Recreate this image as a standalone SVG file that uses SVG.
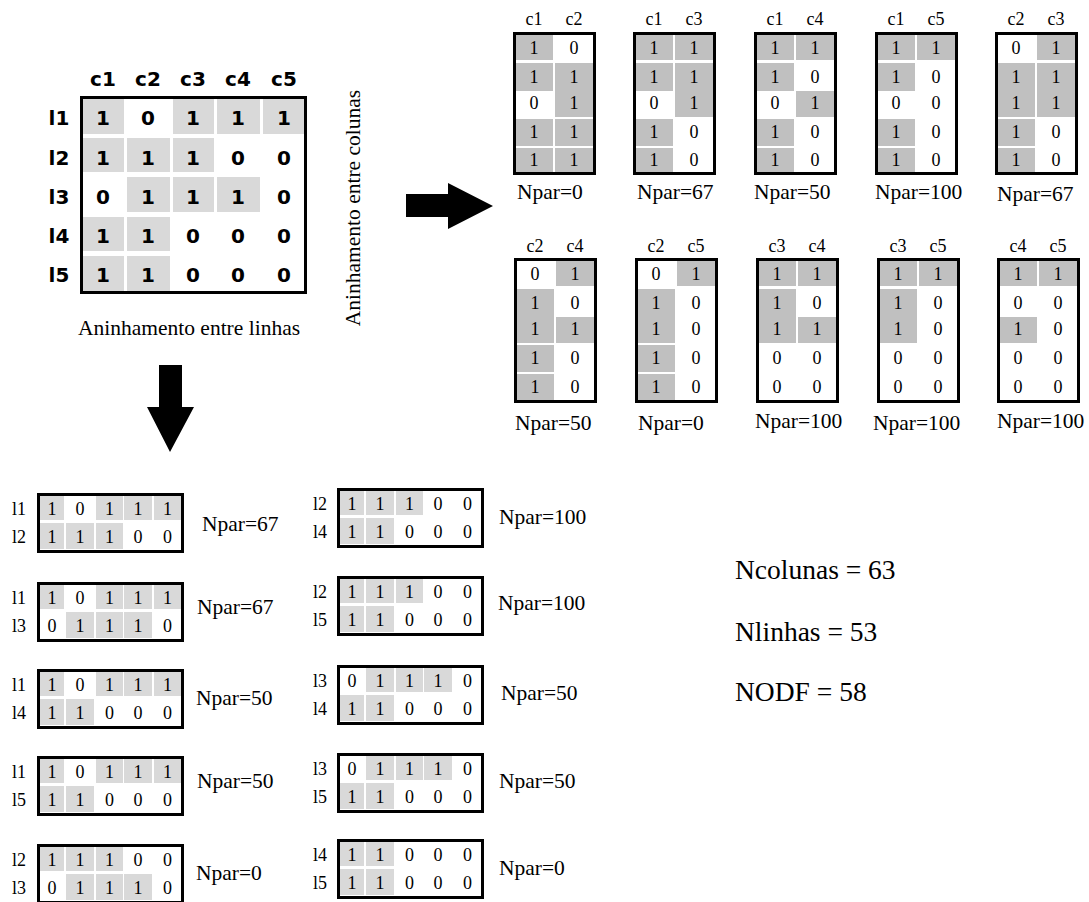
<svg xmlns="http://www.w3.org/2000/svg" width="1089" height="902" viewBox="0 0 1089 902">
<style>
.bx{fill:none;stroke:#000;stroke-width:3}
.g1{fill:#d9d9d9}
.g2{fill:#c0c0c0}
.m{font-family:'DejaVu Sans',Verdana,sans-serif;font-weight:bold;font-size:20px;text-anchor:middle;fill:#000}
.d{font-family:'Liberation Serif','DejaVu Serif',serif;font-size:18px;text-anchor:middle;fill:#000}
.np{font-family:'Liberation Serif','DejaVu Serif',serif;font-size:21.5px;fill:#000}
.big{font-family:'Liberation Serif','DejaVu Serif',serif;font-size:27.5px;fill:#000}
.arr{fill:#000}
</style>
<rect width="1089" height="902" fill="#fff"/>

<!-- main matrix -->
<g id="matrix">
<rect class="g1" x="83" y="98" width="41" height="36"/>
<rect class="g1" x="173" y="98" width="41" height="36"/>
<rect class="g1" x="217" y="98" width="43" height="36"/>
<rect class="g1" x="263" y="98" width="42" height="36"/>
<rect class="g1" x="83" y="138" width="41" height="34"/>
<rect class="g1" x="127" y="138" width="43" height="34"/>
<rect class="g1" x="173" y="138" width="41" height="34"/>
<rect class="g1" x="127" y="177" width="43" height="35"/>
<rect class="g1" x="173" y="177" width="41" height="35"/>
<rect class="g1" x="217" y="177" width="43" height="35"/>
<rect class="g1" x="83" y="217" width="41" height="34"/>
<rect class="g1" x="127" y="217" width="43" height="34"/>
<rect class="g1" x="83" y="256" width="41" height="35"/>
<rect class="g1" x="127" y="256" width="43" height="35"/>
<rect class="bx" x="81.5" y="97.5" width="224" height="195"/>
<text class="m" x="103" y="86">c1</text>
<text class="m" x="148" y="86">c2</text>
<text class="m" x="193" y="86">c3</text>
<text class="m" x="238" y="86">c4</text>
<text class="m" x="284" y="86">c5</text>
<text class="m" x="59" y="125">l1</text>
<text class="m" x="59" y="165">l2</text>
<text class="m" x="59" y="204">l3</text>
<text class="m" x="59" y="243">l4</text>
<text class="m" x="59" y="282">l5</text>
<text class="m" x="103" y="125">1</text><text class="m" x="148" y="125">0</text><text class="m" x="193" y="125">1</text><text class="m" x="238" y="125">1</text><text class="m" x="284" y="125">1</text>
<text class="m" x="103" y="165">1</text><text class="m" x="148" y="165">1</text><text class="m" x="193" y="165">1</text><text class="m" x="238" y="165">0</text><text class="m" x="284" y="165">0</text>
<text class="m" x="103" y="204">0</text><text class="m" x="148" y="204">1</text><text class="m" x="193" y="204">1</text><text class="m" x="238" y="204">1</text><text class="m" x="284" y="204">0</text>
<text class="m" x="103" y="243">1</text><text class="m" x="148" y="243">1</text><text class="m" x="193" y="243">0</text><text class="m" x="238" y="243">0</text><text class="m" x="284" y="243">0</text>
<text class="m" x="103" y="282">1</text><text class="m" x="148" y="282">1</text><text class="m" x="193" y="282">0</text><text class="m" x="238" y="282">0</text><text class="m" x="284" y="282">0</text>
<text class="np" x="189" y="335" text-anchor="middle">Aninhamento entre linhas</text>
<text class="np" transform="translate(360,208) rotate(-90)" text-anchor="middle">Aninhamento entre colunas</text>
</g>

<!-- connectors -->
<g id="connectors">
<polygon class="arr" points="406,194 448,194 448,183 493,206 448,229 448,217 406,217"/>
<polygon class="arr" points="159,365 182,365 182,407 194,407 170,452 147,407 159,407"/>
</g>

<!-- column pairs, top row -->
<g id="cp-c1-c2" transform="translate(513,32)">
<rect class="g2" x="3" y="3" width="37" height="25"/><rect class="g2" x="3" y="31" width="37" height="28"/><rect class="g2" x="3" y="87" width="37" height="27"/><rect class="g2" x="3" y="116" width="37" height="25"/>
<rect class="g2" x="42" y="31" width="38" height="28"/><rect class="g2" x="42" y="59" width="38" height="26"/><rect class="g2" x="42" y="87" width="38" height="27"/><rect class="g2" x="42" y="116" width="38" height="25"/>
<rect class="bx" x="1.5" y="1.5" width="80" height="140"/>
<text class="d" x="21" y="-7">c1</text><text class="d" x="61" y="-7">c2</text>
<text class="d" x="21" y="22">1</text><text class="d" x="21" y="51">1</text><text class="d" x="21" y="77">0</text><text class="d" x="21" y="106">1</text><text class="d" x="21" y="134">1</text>
<text class="d" x="61" y="22">0</text><text class="d" x="61" y="51">1</text><text class="d" x="61" y="77">1</text><text class="d" x="61" y="106">1</text><text class="d" x="61" y="134">1</text>
<text class="np" x="4" y="167">Npar=0</text>
</g>
<g id="cp-c1-c3" transform="translate(633,32)">
<rect class="g2" x="3" y="3" width="37" height="25"/><rect class="g2" x="3" y="31" width="37" height="28"/><rect class="g2" x="3" y="87" width="37" height="27"/><rect class="g2" x="3" y="116" width="37" height="25"/>
<rect class="g2" x="42" y="3" width="38" height="25"/><rect class="g2" x="42" y="31" width="38" height="28"/><rect class="g2" x="42" y="59" width="38" height="26"/>
<rect class="bx" x="1.5" y="1.5" width="80" height="140"/>
<text class="d" x="21" y="-7">c1</text><text class="d" x="61" y="-7">c3</text>
<text class="d" x="21" y="22">1</text><text class="d" x="21" y="51">1</text><text class="d" x="21" y="77">0</text><text class="d" x="21" y="106">1</text><text class="d" x="21" y="134">1</text>
<text class="d" x="61" y="22">1</text><text class="d" x="61" y="51">1</text><text class="d" x="61" y="77">1</text><text class="d" x="61" y="106">0</text><text class="d" x="61" y="134">0</text>
<text class="np" x="4" y="167">Npar=67</text>
</g>
<g id="cp-c1-c4" transform="translate(754,32)">
<rect class="g2" x="3" y="3" width="37" height="25"/><rect class="g2" x="3" y="31" width="37" height="28"/><rect class="g2" x="3" y="87" width="37" height="27"/><rect class="g2" x="3" y="116" width="37" height="25"/>
<rect class="g2" x="42" y="3" width="38" height="25"/><rect class="g2" x="42" y="59" width="38" height="26"/>
<rect class="bx" x="1.5" y="1.5" width="80" height="140"/>
<text class="d" x="21" y="-7">c1</text><text class="d" x="61" y="-7">c4</text>
<text class="d" x="21" y="22">1</text><text class="d" x="21" y="51">1</text><text class="d" x="21" y="77">0</text><text class="d" x="21" y="106">1</text><text class="d" x="21" y="134">1</text>
<text class="d" x="61" y="22">1</text><text class="d" x="61" y="51">0</text><text class="d" x="61" y="77">1</text><text class="d" x="61" y="106">0</text><text class="d" x="61" y="134">0</text>
<text class="np" x="0" y="167">Npar=50</text>
</g>
<g id="cp-c1-c5" transform="translate(875,32)">
<rect class="g2" x="3" y="3" width="37" height="25"/><rect class="g2" x="3" y="31" width="37" height="28"/><rect class="g2" x="3" y="87" width="37" height="27"/><rect class="g2" x="3" y="116" width="37" height="25"/>
<rect class="g2" x="42" y="3" width="38" height="25"/>
<rect class="bx" x="1.5" y="1.5" width="80" height="140"/>
<text class="d" x="21" y="-7">c1</text><text class="d" x="61" y="-7">c5</text>
<text class="d" x="21" y="22">1</text><text class="d" x="21" y="51">1</text><text class="d" x="21" y="77">0</text><text class="d" x="21" y="106">1</text><text class="d" x="21" y="134">1</text>
<text class="d" x="61" y="22">1</text><text class="d" x="61" y="51">0</text><text class="d" x="61" y="77">0</text><text class="d" x="61" y="106">0</text><text class="d" x="61" y="134">0</text>
<text class="np" x="0" y="167">Npar=100</text>
</g>
<g id="cp-c2-c3" transform="translate(995,32)">
<rect class="g2" x="3" y="31" width="37" height="28"/><rect class="g2" x="3" y="59" width="37" height="26"/><rect class="g2" x="3" y="87" width="37" height="27"/><rect class="g2" x="3" y="116" width="37" height="25"/>
<rect class="g2" x="42" y="3" width="38" height="25"/><rect class="g2" x="42" y="31" width="38" height="28"/><rect class="g2" x="42" y="59" width="38" height="26"/>
<rect class="bx" x="1.5" y="1.5" width="80" height="140"/>
<text class="d" x="21" y="-7">c2</text><text class="d" x="61" y="-7">c3</text>
<text class="d" x="21" y="22">0</text><text class="d" x="21" y="51">1</text><text class="d" x="21" y="77">1</text><text class="d" x="21" y="106">1</text><text class="d" x="21" y="134">1</text>
<text class="d" x="61" y="22">1</text><text class="d" x="61" y="51">1</text><text class="d" x="61" y="77">1</text><text class="d" x="61" y="106">0</text><text class="d" x="61" y="134">0</text>
<text class="np" x="2" y="169">Npar=67</text>
</g>

<!-- column pairs, second row -->
<g id="cp-c2-c4" transform="translate(514,258)">
<rect class="g2" x="3" y="31" width="37" height="28"/><rect class="g2" x="3" y="59" width="37" height="26"/><rect class="g2" x="3" y="87" width="37" height="27"/><rect class="g2" x="3" y="116" width="37" height="26"/>
<rect class="g2" x="42" y="3" width="38" height="25"/><rect class="g2" x="42" y="59" width="38" height="26"/>
<rect class="bx" x="1.5" y="1.5" width="80" height="142"/>
<text class="d" x="21" y="-6">c2</text><text class="d" x="61" y="-6">c4</text>
<text class="d" x="21" y="22">0</text><text class="d" x="21" y="51">1</text><text class="d" x="21" y="77">1</text><text class="d" x="21" y="106">1</text><text class="d" x="21" y="135">1</text>
<text class="d" x="61" y="22">1</text><text class="d" x="61" y="51">0</text><text class="d" x="61" y="77">1</text><text class="d" x="61" y="106">0</text><text class="d" x="61" y="135">0</text>
<text class="np" x="1" y="172">Npar=50</text>
</g>
<g id="cp-c2-c5" transform="translate(635,258)">
<rect class="g2" x="3" y="31" width="37" height="28"/><rect class="g2" x="3" y="59" width="37" height="26"/><rect class="g2" x="3" y="87" width="37" height="27"/><rect class="g2" x="3" y="116" width="37" height="26"/>
<rect class="g2" x="42" y="3" width="38" height="25"/>
<rect class="bx" x="1.5" y="1.5" width="80" height="142"/>
<text class="d" x="21" y="-6">c2</text><text class="d" x="61" y="-6">c5</text>
<text class="d" x="21" y="22">0</text><text class="d" x="21" y="51">1</text><text class="d" x="21" y="77">1</text><text class="d" x="21" y="106">1</text><text class="d" x="21" y="135">1</text>
<text class="d" x="61" y="22">1</text><text class="d" x="61" y="51">0</text><text class="d" x="61" y="77">0</text><text class="d" x="61" y="106">0</text><text class="d" x="61" y="135">0</text>
<text class="np" x="3" y="172">Npar=0</text>
</g>
<g id="cp-c3-c4" transform="translate(756,258)">
<rect class="g2" x="3" y="3" width="37" height="25"/><rect class="g2" x="3" y="31" width="37" height="28"/><rect class="g2" x="3" y="59" width="37" height="26"/>
<rect class="g2" x="42" y="3" width="38" height="25"/><rect class="g2" x="42" y="59" width="38" height="26"/>
<rect class="bx" x="1.5" y="1.5" width="80" height="142"/>
<text class="d" x="21" y="-6">c3</text><text class="d" x="61" y="-6">c4</text>
<text class="d" x="21" y="22">1</text><text class="d" x="21" y="51">1</text><text class="d" x="21" y="77">1</text><text class="d" x="21" y="106">0</text><text class="d" x="21" y="135">0</text>
<text class="d" x="61" y="22">1</text><text class="d" x="61" y="51">0</text><text class="d" x="61" y="77">1</text><text class="d" x="61" y="106">0</text><text class="d" x="61" y="135">0</text>
<text class="np" x="-1" y="170">Npar=100</text>
</g>
<g id="cp-c3-c5" transform="translate(877,258)">
<rect class="g2" x="3" y="3" width="37" height="25"/><rect class="g2" x="3" y="31" width="37" height="28"/><rect class="g2" x="3" y="59" width="37" height="26"/>
<rect class="g2" x="42" y="3" width="38" height="25"/>
<rect class="bx" x="1.5" y="1.5" width="80" height="142"/>
<text class="d" x="21" y="-6">c3</text><text class="d" x="61" y="-6">c5</text>
<text class="d" x="21" y="22">1</text><text class="d" x="21" y="51">1</text><text class="d" x="21" y="77">1</text><text class="d" x="21" y="106">0</text><text class="d" x="21" y="135">0</text>
<text class="d" x="61" y="22">1</text><text class="d" x="61" y="51">0</text><text class="d" x="61" y="77">0</text><text class="d" x="61" y="106">0</text><text class="d" x="61" y="135">0</text>
<text class="np" x="-4" y="172">Npar=100</text>
</g>
<g id="cp-c4-c5" transform="translate(997,258)">
<rect class="g2" x="3" y="3" width="37" height="25"/><rect class="g2" x="3" y="59" width="37" height="26"/>
<rect class="g2" x="42" y="3" width="38" height="25"/>
<rect class="bx" x="1.5" y="1.5" width="80" height="142"/>
<text class="d" x="21" y="-6">c4</text><text class="d" x="61" y="-6">c5</text>
<text class="d" x="21" y="22">1</text><text class="d" x="21" y="51">0</text><text class="d" x="21" y="77">1</text><text class="d" x="21" y="106">0</text><text class="d" x="21" y="135">0</text>
<text class="d" x="61" y="22">1</text><text class="d" x="61" y="51">0</text><text class="d" x="61" y="77">0</text><text class="d" x="61" y="106">0</text><text class="d" x="61" y="135">0</text>
<text class="np" x="0" y="170">Npar=100</text>
</g>

<!-- row pairs, left column -->
<g id="rp-l1-l2" transform="translate(37,493)">
<rect class="g1" x="3" y="3" width="24" height="24"/><rect class="g1" x="59" y="3" width="27" height="24"/><rect class="g1" x="87" y="3" width="28" height="24"/><rect class="g1" x="117" y="3" width="27" height="24"/>
<rect class="g1" x="3" y="30" width="24" height="26"/><rect class="g1" x="29" y="30" width="28" height="26"/><rect class="g1" x="59" y="30" width="27" height="26"/>
<rect class="bx" x="1.5" y="1.5" width="144" height="57"/>
<text class="d" x="-18" y="22">l1</text><text class="d" x="-18" y="50">l2</text>
<text class="d" x="15" y="22">1</text><text class="d" x="43" y="22">0</text><text class="d" x="72.5" y="22">1</text><text class="d" x="101" y="22">1</text><text class="d" x="130.5" y="22">1</text>
<text class="d" x="15" y="50">1</text><text class="d" x="43" y="50">1</text><text class="d" x="72.5" y="50">1</text><text class="d" x="101" y="50">0</text><text class="d" x="130.5" y="50">0</text>
<text class="np" x="165" y="38">Npar=67</text>
</g>
<g id="rp-l1-l3" transform="translate(37,582)">
<rect class="g1" x="3" y="3" width="24" height="24"/><rect class="g1" x="59" y="3" width="27" height="24"/><rect class="g1" x="87" y="3" width="28" height="24"/><rect class="g1" x="117" y="3" width="27" height="24"/>
<rect class="g1" x="29" y="30" width="28" height="26"/><rect class="g1" x="59" y="30" width="27" height="26"/><rect class="g1" x="87" y="30" width="28" height="26"/>
<rect class="bx" x="1.5" y="1.5" width="144" height="57"/>
<text class="d" x="-18" y="22">l1</text><text class="d" x="-18" y="50">l3</text>
<text class="d" x="15" y="22">1</text><text class="d" x="43" y="22">0</text><text class="d" x="72.5" y="22">1</text><text class="d" x="101" y="22">1</text><text class="d" x="130.5" y="22">1</text>
<text class="d" x="15" y="50">0</text><text class="d" x="43" y="50">1</text><text class="d" x="72.5" y="50">1</text><text class="d" x="101" y="50">1</text><text class="d" x="130.5" y="50">0</text>
<text class="np" x="160" y="32">Npar=67</text>
</g>
<g id="rp-l1-l4" transform="translate(37,669)">
<rect class="g1" x="3" y="3" width="24" height="24"/><rect class="g1" x="59" y="3" width="27" height="24"/><rect class="g1" x="87" y="3" width="28" height="24"/><rect class="g1" x="117" y="3" width="27" height="24"/>
<rect class="g1" x="3" y="30" width="24" height="26"/><rect class="g1" x="29" y="30" width="28" height="26"/>
<rect class="bx" x="1.5" y="1.5" width="144" height="57"/>
<text class="d" x="-18" y="22">l1</text><text class="d" x="-18" y="50">l4</text>
<text class="d" x="15" y="22">1</text><text class="d" x="43" y="22">0</text><text class="d" x="72.5" y="22">1</text><text class="d" x="101" y="22">1</text><text class="d" x="130.5" y="22">1</text>
<text class="d" x="15" y="50">1</text><text class="d" x="43" y="50">1</text><text class="d" x="72.5" y="50">0</text><text class="d" x="101" y="50">0</text><text class="d" x="130.5" y="50">0</text>
<text class="np" x="159" y="36">Npar=50</text>
</g>
<g id="rp-l1-l5" transform="translate(37,756)">
<rect class="g1" x="3" y="3" width="24" height="24"/><rect class="g1" x="59" y="3" width="27" height="24"/><rect class="g1" x="87" y="3" width="28" height="24"/><rect class="g1" x="117" y="3" width="27" height="24"/>
<rect class="g1" x="3" y="30" width="24" height="26"/><rect class="g1" x="29" y="30" width="28" height="26"/>
<rect class="bx" x="1.5" y="1.5" width="144" height="57"/>
<text class="d" x="-18" y="22">l1</text><text class="d" x="-18" y="50">l5</text>
<text class="d" x="15" y="22">1</text><text class="d" x="43" y="22">0</text><text class="d" x="72.5" y="22">1</text><text class="d" x="101" y="22">1</text><text class="d" x="130.5" y="22">1</text>
<text class="d" x="15" y="50">1</text><text class="d" x="43" y="50">1</text><text class="d" x="72.5" y="50">0</text><text class="d" x="101" y="50">0</text><text class="d" x="130.5" y="50">0</text>
<text class="np" x="160" y="32">Npar=50</text>
</g>
<g id="rp-l2-l3" transform="translate(37,844)">
<rect class="g1" x="3" y="3" width="24" height="24"/><rect class="g1" x="29" y="3" width="28" height="24"/><rect class="g1" x="59" y="3" width="27" height="24"/>
<rect class="g1" x="29" y="30" width="28" height="26"/><rect class="g1" x="59" y="30" width="27" height="26"/><rect class="g1" x="87" y="30" width="28" height="26"/>
<rect class="bx" x="1.5" y="1.5" width="144" height="57"/>
<text class="d" x="-18" y="22">l2</text><text class="d" x="-18" y="50">l3</text>
<text class="d" x="15" y="22">1</text><text class="d" x="43" y="22">1</text><text class="d" x="72.5" y="22">1</text><text class="d" x="101" y="22">0</text><text class="d" x="130.5" y="22">0</text>
<text class="d" x="15" y="50">0</text><text class="d" x="43" y="50">1</text><text class="d" x="72.5" y="50">1</text><text class="d" x="101" y="50">1</text><text class="d" x="130.5" y="50">0</text>
<text class="np" x="159" y="36">Npar=0</text>
</g>

<!-- row pairs, right column -->
<g id="rp-l2-l4" transform="translate(337,488)">
<rect class="g1" x="3" y="3" width="24" height="24"/><rect class="g1" x="29" y="3" width="28" height="24"/><rect class="g1" x="59" y="3" width="27" height="24"/>
<rect class="g1" x="3" y="30" width="24" height="26"/><rect class="g1" x="29" y="30" width="28" height="26"/>
<rect class="bx" x="1.5" y="1.5" width="144" height="57"/>
<text class="d" x="-17" y="22">l2</text><text class="d" x="-17" y="50">l4</text>
<text class="d" x="15" y="22">1</text><text class="d" x="43" y="22">1</text><text class="d" x="72.5" y="22">1</text><text class="d" x="101" y="22">0</text><text class="d" x="130.5" y="22">0</text>
<text class="d" x="15" y="50">1</text><text class="d" x="43" y="50">1</text><text class="d" x="72.5" y="50">0</text><text class="d" x="101" y="50">0</text><text class="d" x="130.5" y="50">0</text>
<text class="np" x="162" y="36">Npar=100</text>
</g>
<g id="rp-l2-l5" transform="translate(337,576)">
<rect class="g1" x="3" y="3" width="24" height="24"/><rect class="g1" x="29" y="3" width="28" height="24"/><rect class="g1" x="59" y="3" width="27" height="24"/>
<rect class="g1" x="3" y="30" width="24" height="26"/><rect class="g1" x="29" y="30" width="28" height="26"/>
<rect class="bx" x="1.5" y="1.5" width="144" height="57"/>
<text class="d" x="-17" y="22">l2</text><text class="d" x="-17" y="50">l5</text>
<text class="d" x="15" y="22">1</text><text class="d" x="43" y="22">1</text><text class="d" x="72.5" y="22">1</text><text class="d" x="101" y="22">0</text><text class="d" x="130.5" y="22">0</text>
<text class="d" x="15" y="50">1</text><text class="d" x="43" y="50">1</text><text class="d" x="72.5" y="50">0</text><text class="d" x="101" y="50">0</text><text class="d" x="130.5" y="50">0</text>
<text class="np" x="161" y="34">Npar=100</text>
</g>
<g id="rp-l3-l4" transform="translate(337,665)">
<rect class="g1" x="29" y="3" width="28" height="24"/><rect class="g1" x="59" y="3" width="27" height="24"/><rect class="g1" x="87" y="3" width="28" height="24"/>
<rect class="g1" x="3" y="30" width="24" height="26"/><rect class="g1" x="29" y="30" width="28" height="26"/>
<rect class="bx" x="1.5" y="1.5" width="144" height="57"/>
<text class="d" x="-17" y="22">l3</text><text class="d" x="-17" y="50">l4</text>
<text class="d" x="15" y="22">0</text><text class="d" x="43" y="22">1</text><text class="d" x="72.5" y="22">1</text><text class="d" x="101" y="22">1</text><text class="d" x="130.5" y="22">0</text>
<text class="d" x="15" y="50">1</text><text class="d" x="43" y="50">1</text><text class="d" x="72.5" y="50">0</text><text class="d" x="101" y="50">0</text><text class="d" x="130.5" y="50">0</text>
<text class="np" x="164" y="35">Npar=50</text>
</g>
<g id="rp-l3-l5" transform="translate(337,753)">
<rect class="g1" x="29" y="3" width="28" height="24"/><rect class="g1" x="59" y="3" width="27" height="24"/><rect class="g1" x="87" y="3" width="28" height="24"/>
<rect class="g1" x="3" y="30" width="24" height="26"/><rect class="g1" x="29" y="30" width="28" height="26"/>
<rect class="bx" x="1.5" y="1.5" width="144" height="57"/>
<text class="d" x="-17" y="22">l3</text><text class="d" x="-17" y="50">l5</text>
<text class="d" x="15" y="22">0</text><text class="d" x="43" y="22">1</text><text class="d" x="72.5" y="22">1</text><text class="d" x="101" y="22">1</text><text class="d" x="130.5" y="22">0</text>
<text class="d" x="15" y="50">1</text><text class="d" x="43" y="50">1</text><text class="d" x="72.5" y="50">0</text><text class="d" x="101" y="50">0</text><text class="d" x="130.5" y="50">0</text>
<text class="np" x="162" y="35">Npar=50</text>
</g>
<g id="rp-l4-l5" transform="translate(337,839)">
<rect class="g1" x="3" y="3" width="24" height="24"/><rect class="g1" x="29" y="3" width="28" height="24"/>
<rect class="g1" x="3" y="30" width="24" height="26"/><rect class="g1" x="29" y="30" width="28" height="26"/>
<rect class="bx" x="1.5" y="1.5" width="144" height="57"/>
<text class="d" x="-17" y="22">l4</text><text class="d" x="-17" y="50">l5</text>
<text class="d" x="15" y="22">1</text><text class="d" x="43" y="22">1</text><text class="d" x="72.5" y="22">0</text><text class="d" x="101" y="22">0</text><text class="d" x="130.5" y="22">0</text>
<text class="d" x="15" y="50">1</text><text class="d" x="43" y="50">1</text><text class="d" x="72.5" y="50">0</text><text class="d" x="101" y="50">0</text><text class="d" x="130.5" y="50">0</text>
<text class="np" x="162" y="36">Npar=0</text>
</g>

<g id="results">
<text class="big" x="735" y="579">Ncolunas = 63</text>
<text class="big" x="735" y="641">Nlinhas = 53</text>
<text class="big" x="735" y="701">NODF = 58</text>
</g>
</svg>
